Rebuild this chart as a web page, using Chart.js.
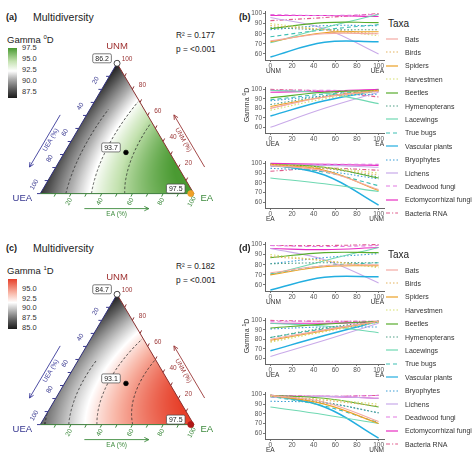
<!DOCTYPE html>
<html>
<head>
<meta charset="utf-8">
<script src="https://cdn.jsdelivr.net/npm/chart.js@4.4.0/dist/chart.umd.min.js"></script>
<style>
body { margin: 0; background: #fff; font-family: "Liberation Sans", Arial, sans-serif; }
#wrap { position: relative; width: 474px; height: 462px; overflow: hidden; }
.t { position: absolute; white-space: nowrap; color: #222; line-height: 1; }
canvas { position: absolute; }
</style>
</head>
<body>
<div id="wrap"></div>
<script>
// ---------- data ----------
const taxa = ['Bats', 'Birds', 'Spiders', 'Harvestmen', 'Beetles', 'Hymenopterans', 'Lacewings',
  'True bugs', 'Vascular plants', 'Bryophytes', 'Lichens', 'Deadwood fungi', 'Ectomycorrhizal fungi', 'Bacteria RNA'];
const taxaColors = ['#f4a9a3', '#e3b25e', '#eba125', '#d5df6e', '#58ac2c', '#4f9f86', '#6fd8b2',
  '#3fbfb4', '#22aee0', '#3c9ed6', '#c9aae9', '#e27ae2', '#e82cc2', '#e05c8c'];
const taxaLines = ['solid', 'dotted', 'solid', 'dotted', 'solid', 'dotted', 'solid',
  'dashed', 'solid', 'dotted', 'solid', 'dashed', 'solid', 'dashdot'];

// Gamma 0D (b): values at the three pure compositions and at edge midpoints
const b_UNM = [73, 88, 72, 90, 85, 86, 71, 77, 57, 84, 96, 99, 98, 93];
const b_UEA = [80, 80, 82, 78, 91, 84, 99, 89, 72, 88, 60, 99, 97, 100];
const b_EA  = [98, 99, 99, 98, 99, 99, 85, 98, 99, 95, 97, 98, 100, 92];
const b_mid_UNM_UEA = [80, 84, 81, 84, 91, 84, 86, 84, 71.5, 88, 85, 98, 98, 96];
const b_mid_UEA_EA  = [92, 92, 92, 90, 97, 93, 96, 95, 88, 93, 80, 99, 98, 98];
const b_mid_EA_UNM  = [92, 95, 93, 96, 96, 95, 79, 91, 88, 92, 98, 99, 99, 95];

// Gamma 1D (d)
const d_UNM = [72, 88, 70, 90, 87, 81, 70, 71, 55, 81, 96, 99, 96, 99];
const d_UEA = [80, 78, 79, 77, 92, 82, 97, 82, 68, 91, 62, 99, 97, 100];
const d_EA  = [99, 99, 99, 98, 99, 99, 87, 98, 99, 93, 97, 99, 98, 99];
const d_mid_UNM_UEA = [79, 84, 78, 84, 92, 82, 84, 79, 67.5, 87, 85, 98, 95, 99];
const d_mid_UEA_EA  = [90, 90, 89, 88, 96, 92, 94, 91, 84, 93, 79, 99, 97, 99];
const d_mid_EA_UNM  = [92, 94, 90, 95, 96, 92, 79, 88, 87, 91, 98, 98, 98, 98];

const xTicks = [0, 20, 40, 60, 80, 100];
const yTicks = [60, 70, 80, 90, 100];
const ternTicks = [0.2, 0.4, 0.6, 0.8, 1.0];

// ternary surfaces: [UNM, UEA, EA] corner values, edge midpoints [UNM-UEA, UEA-EA, EA-UNM]
const a_corners = [86.2, 87.0, 97.5];
const a_mids = [88.0, 94.5, 95.6];
const a_levels = [90, 92.5, 95];
const a_barTicks = [87.5, 90, 92.5, 95, 97.5];
const a_labels = ['86.2', '93.7', '97.5'];

const c_corners = [84.7, 87.0, 97.5];
const c_mids = [88.0, 94.0, 95.0];
const c_levels = [87.5, 90, 92.5, 95];
const c_barTicks = [85, 87.5, 90, 92.5, 95];
const c_labels = ['84.7', '93.1', '97.5'];

// marked compositions [UNM, UEA, EA]: minimum, centre, maximum
const markUNM = [1.0, 0.316, 0.0];
const markUEA = [0.0, 0.284, 0.02];
const markEA  = [0.0, 0.40, 0.98];

// ---------- helpers ----------
const wrap = document.getElementById('wrap');
const FONT = '"Liberation Sans", Arial, sans-serif';
const SQ = Math.sqrt(3) / 2;

function txt(s, x, y, css) {
  const d = document.createElement('div');
  d.className = 't';
  d.innerHTML = s;
  d.style.left = x + 'px';
  d.style.top = y + 'px';
  if (css) d.style.cssText += css;
  wrap.appendChild(d);
  return d;
}
function mkCanvas(x, y, w, h) {
  const c = document.createElement('canvas');
  c.width = w; c.height = h;
  c.style.left = x + 'px'; c.style.top = y + 'px';
  c.style.width = w + 'px'; c.style.height = h + 'px';
  wrap.appendChild(c);
  return c;
}
function dashFor(kind) {
  if (kind === 'dotted') return [1.5, 2];
  if (kind === 'dashed') return [4, 3];
  if (kind === 'dashdot') return [4, 2, 1.2, 2];
  return [];
}
function hexRgb(h) {
  return [parseInt(h.substr(1, 2), 16), parseInt(h.substr(3, 2), 16), parseInt(h.substr(5, 2), 16)];
}
function colorAt(stops, v) {
  if (v <= stops[0][0]) return hexRgb(stops[0][1]);
  for (let i = 1; i < stops.length; i++) {
    if (v <= stops[i][0]) {
      const t = (v - stops[i - 1][0]) / (stops[i][0] - stops[i - 1][0]);
      const a = hexRgb(stops[i - 1][1]), b = hexRgb(stops[i][1]);
      return [0, 1, 2].map(k => Math.round(a[k] + (b[k] - a[k]) * t));
    }
  }
  return hexRgb(stops[stops.length - 1][1]);
}
// quadratic triangle surface through corner and edge-midpoint values
function surf(corners, mids, n, u, e) {
  return corners[0] * n * (2 * n - 1) + corners[1] * u * (2 * u - 1) + corners[2] * e * (2 * e - 1)
    + 4 * mids[0] * n * u + 4 * mids[1] * u * e + 4 * mids[2] * e * n;
}

// ---------- ternary panels ----------
function ternaryPanel(top, cfg) {
  const cv = mkCanvas(0, top, 237, 231);
  const plugin = {
    id: 'tern',
    beforeDatasetsDraw(chart) {
      const ctx = chart.ctx, xs = chart.scales.x, ys = chart.scales.y;
      const P = (n, u, e) => [xs.getPixelForValue(e + n / 2), ys.getPixelForValue(n * SQ)];
      const vT = P(1, 0, 0), vL = P(0, 1, 0), vR = P(0, 0, 1);
      // surface
      const x0 = Math.floor(vL[0]) - 1, x1 = Math.ceil(vR[0]) + 1;
      const y0 = Math.floor(vT[1]) - 1, y1 = Math.ceil(vL[1]) + 1;
      const w = x1 - x0, h = y1 - y0;
      const off = document.createElement('canvas');
      off.width = w; off.height = h;
      const octx = off.getContext('2d');
      const img = octx.createImageData(w, h);
      for (let j = 0; j < h; j++) {
        for (let i = 0; i < w; i++) {
          const X = xs.getValueForPixel(x0 + i + 0.5), Y = ys.getValueForPixel(y0 + j + 0.5);
          let n = Y / SQ, e = X - n / 2, u = 1 - n - e;
          if (n < -0.02 || e < -0.02 || u < -0.02) continue;
          n = Math.max(0, n); e = Math.max(0, e); u = Math.max(0, u);
          const c = colorAt(cfg.stops, surf(cfg.corners, cfg.mids, n, u, e));
          const k = (j * w + i) * 4;
          img.data[k] = c[0]; img.data[k + 1] = c[1]; img.data[k + 2] = c[2]; img.data[k + 3] = 255;
        }
      }
      octx.putImageData(img, 0, 0);
      ctx.save();
      ctx.beginPath(); ctx.moveTo(vT[0], vT[1]); ctx.lineTo(vL[0], vL[1]); ctx.lineTo(vR[0], vR[1]); ctx.closePath();
      ctx.clip();
      ctx.drawImage(off, x0, y0);
      // contours: march along rays from the UEA corner to the EA-UNM edge
      ctx.strokeStyle = '#2a2a2a'; ctx.lineWidth = 0.8; ctx.setLineDash([2.5, 2]);
      cfg.levels.forEach(L => {
        ctx.beginPath();
        let started = false;
        for (let k = 0; k <= 160; k++) {
          const s = k / 160;
          const f = t => surf(cfg.corners, cfg.mids, t * s, 1 - t, t * (1 - s)) - L;
          let lo = null;
          const steps = 60;
          for (let q = 1; q <= steps; q++) {
            if (f(q / steps) >= 0) { lo = q; break; }
          }
          if (lo === null) { started = false; continue; }
          let a = (lo - 1) / steps, b = lo / steps;
          for (let it = 0; it < 25; it++) { const m = (a + b) / 2; if (f(m) >= 0) b = m; else a = m; }
          const pt = P(b * s, 1 - b, b * (1 - s));
          if (!started) { ctx.moveTo(pt[0], pt[1]); started = true; } else ctx.lineTo(pt[0], pt[1]);
        }
        ctx.stroke();
      });
      ctx.restore();
      // edges
      ctx.save();
      ctx.lineWidth = 1;
      const edge = (p, q, col) => { ctx.strokeStyle = col; ctx.beginPath(); ctx.moveTo(p[0], p[1]); ctx.lineTo(q[0], q[1]); ctx.stroke(); };
      edge(vL, vT, '#2f2f7a');
      edge(vT, vR, '#8a3030');
      edge(vL, vR, '#3c7d3c');
      // ticks
      for (let k = 1; k <= 10; k++) {
        const p = k / 10;
        let a = P(0, 1 - p, p); ctx.strokeStyle = '#3c8a3c';
        ctx.beginPath(); ctx.moveTo(a[0], a[1]); ctx.lineTo(a[0] - 1.5, a[1] + 3); ctx.stroke();
        a = P(1 - p, p, 0); ctx.strokeStyle = '#3a3a90';
        ctx.beginPath(); ctx.moveTo(a[0], a[1]); ctx.lineTo(a[0] - 3.3, a[1]); ctx.stroke();
        a = P(p, 0, 1 - p); ctx.strokeStyle = '#8a3030';
        ctx.beginPath(); ctx.moveTo(a[0], a[1]); ctx.lineTo(a[0] + 1.5, a[1] - 3); ctx.stroke();
      }
      // tick labels
      ctx.font = '6.5px ' + FONT;
      ctx.textAlign = 'center'; ctx.textBaseline = 'middle';
      ternTicks.forEach(p => {
        const lab = String(Math.round(p * 100));
        let a = P(0, 1 - p, p);
        ctx.save(); ctx.translate(a[0] - 2, a[1] + 8); ctx.rotate(-Math.PI / 3);
        ctx.fillStyle = '#3c8a3c'; ctx.fillText(lab, 0, 0); ctx.restore();
        a = P(1 - p, p, 0);
        ctx.save(); ctx.translate(a[0] - 6, a[1] - 9); ctx.rotate(-Math.PI / 3);
        ctx.fillStyle = '#3a3a90'; ctx.fillText(lab, 0, 0); ctx.restore();
        a = P(p, 0, 1 - p);
        ctx.fillStyle = '#9a3535'; ctx.fillText(lab, a[0] + 10, a[1] - 4);
      });
      // corner names
      ctx.font = '9.5px ' + FONT;
      ctx.fillStyle = '#9e2f2f'; ctx.fillText('UNM', vT[0], vT[1] - 17);
      ctx.fillStyle = '#35358f'; ctx.fillText('UEA', vL[0] - 18, vL[1] + 5);
      ctx.fillStyle = '#3c8a3c'; ctx.fillText('EA', vR[0] + 13, vR[1] + 5);
      // axis arrows
      const arrow = (p, q, col) => {
        ctx.strokeStyle = col; ctx.fillStyle = col; ctx.lineWidth = 0.9;
        ctx.beginPath(); ctx.moveTo(p[0], p[1]); ctx.lineTo(q[0], q[1]); ctx.stroke();
        const ang = Math.atan2(q[1] - p[1], q[0] - p[0]);
        ctx.beginPath();
        ctx.moveTo(q[0], q[1]);
        ctx.lineTo(q[0] - 5 * Math.cos(ang - 0.45), q[1] - 5 * Math.sin(ang - 0.45));
        ctx.moveTo(q[0], q[1]);
        ctx.lineTo(q[0] - 5 * Math.cos(ang + 0.45), q[1] - 5 * Math.sin(ang + 0.45));
        ctx.stroke();
      };
      const la = P(0.65, 0.35, 0), lb = P(0.25, 0.75, 0);
      arrow([la[0] - 30, la[1] + 6], [lb[0] - 30, lb[1] + 6], '#3a3a9a');
      const ra = P(0.25, 0, 0.75), rb = P(0.65, 0, 0.35);
      arrow([ra[0] + 30, ra[1] + 6], [rb[0] + 30, rb[1] + 6], '#9a3535');
      const ba = P(0, 0.7, 0.3), bb = P(0, 0.28, 0.72);
      arrow([ba[0] - 2, ba[1] + 15], [bb[0] - 2, bb[1] + 15], '#3c8a3c');
      ctx.font = '6.5px ' + FONT;
      const lm = P(0.45, 0.55, 0);
      ctx.save(); ctx.translate(lm[0] - 24, lm[1] + 5); ctx.rotate(-Math.PI / 3);
      ctx.fillStyle = '#3a3a9a'; ctx.fillText('UEA (%)', 0, 0); ctx.restore();
      const rm = P(0.45, 0, 0.55);
      ctx.save(); ctx.translate(rm[0] + 24, rm[1] + 5); ctx.rotate(Math.PI / 3);
      ctx.fillStyle = '#9a3535'; ctx.fillText('UNM (%)', 0, 0); ctx.restore();
      const bm = P(0, 0.49, 0.51);
      ctx.fillStyle = '#3c8a3c'; ctx.fillText('EA (%)', bm[0] - 2, bm[1] + 21);
      ctx.restore();
    },
    afterDatasetsDraw(chart) {
      const ctx = chart.ctx, meta = chart.getDatasetMeta(0);
      ctx.save();
      ctx.font = '7px ' + FONT; ctx.textAlign = 'center'; ctx.textBaseline = 'middle';
      meta.data.forEach((el, i) => {
        const x = el.x - 15, y = el.y - 5;
        const w = ctx.measureText(cfg.labels[i]).width + 5;
        ctx.fillStyle = '#fff'; ctx.strokeStyle = '#444'; ctx.lineWidth = 0.7;
        ctx.beginPath(); ctx.roundRect(x - w / 2, y - 4.5, w, 9, 1.5); ctx.fill(); ctx.stroke();
        ctx.fillStyle = '#222'; ctx.fillText(cfg.labels[i], x, y + 0.5);
      });
      ctx.restore();
    }
  };
  return new Chart(cv, {
    type: 'scatter',
    data: {
      datasets: [{
        data: markUNM.map((n, i) => ({ x: markEA[i] + n / 2, y: n * SQ })),
        pointRadius: [3, 2.3, 3],
        pointBackgroundColor: ['#ffffff', '#000000', cfg.maxColor],
        pointBorderColor: ['#222222', '#000000', cfg.maxColor],
        pointBorderWidth: 0.8
      }]
    },
    options: {
      animation: false, responsive: false, devicePixelRatio: 1,
      layout: { padding: 0 },
      scales: {
        x: { type: 'linear', display: false, min: -0.23125, max: 1.25 },
        y: { type: 'linear', display: false, min: -0.2166, max: 1.2548 }
      },
      plugins: { legend: { display: false }, tooltip: { enabled: false } }
    },
    plugins: [plugin]
  });
}

function ternaryText(top, tag, sup, r2, barTicks, stops, lo, hi) {
  txt(tag, 6, top + 13, 'font-size:9px;font-weight:bold;');
  txt('Multidiversity', 33, top + 12, 'font-size:10.5px;');
  txt('Gamma <sup style="font-size:6px;vertical-align:4px">' + sup + '</sup>D', 7, top + 34, 'font-size:9.5px;');
  txt('R² = ' + r2, 176, top + 31, 'font-size:8.3px;');
  txt('p = &lt;0.001', 176, top + 45, 'font-size:8.3px;');
  const barTop = top + 48, barH = 50;
  const g = stops.slice().reverse().map(s => s[1] + ' ' + ((hi - s[0]) / (hi - lo) * 100).toFixed(1) + '%').join(',');
  const bar = txt('', 8, barTop, 'width:9px;height:' + barH + 'px;background:linear-gradient(to bottom,' + g + ');');
  barTicks.forEach(v => {
    const y = barTop + (hi - v) / (hi - lo) * barH;
    txt(v.toFixed(1), 22, y - 4, 'font-size:7.5px;color:#333;');
  });
}

const a_stops = [[86.2, '#1a1a1a'], [88, '#555555'], [90.5, '#b0b0b0'], [92.3, '#ffffff'], [94.5, '#c4e2b0'], [97.5, '#4a9a32']];
const c_stops = [[84.7, '#1a1a1a'], [87, '#606060'], [89.8, '#c4c4c4'], [91.5, '#ffffff'], [94, '#f8b4a4'], [97.5, '#e6402a']];

ternaryText(0, '(a)', '0', '0.177', a_barTicks, a_stops, 86.2, 97.5);
ternaryPanel(0, { corners: a_corners, mids: a_mids, levels: a_levels, stops: a_stops, labels: a_labels, maxColor: '#f0a028' });
ternaryText(231, '(c)', '1', '0.182', c_barTicks, c_stops, 84.7, 97.5);
ternaryPanel(231, { corners: c_corners, mids: c_mids, levels: c_levels, stops: c_stops, labels: c_labels, maxColor: '#b01818' });

// ---------- line panels ----------
function linePanel(top, h, padTop, startVals, midVals, endVals, nameL, nameR, ymin, ymax) {
  const cv = mkCanvas(237, top, 150, h);
  const datasets = taxa.map((t, i) => ({
    label: t,
    data: [startVals[i], midVals[i], endVals[i]].map((v, k) => ({ x: k * 50, y: v })),
    borderColor: taxaColors[i],
    borderDash: dashFor(taxaLines[i]),
    borderWidth: taxa[i] === 'Vascular plants' ? 1.5 : 1.1,
    pointRadius: 0,
    tension: 0.4,
    fill: false
  }));
  new Chart(cv, {
    type: 'line',
    data: { datasets },
    options: {
      animation: false, responsive: false, devicePixelRatio: 1,
      layout: { padding: { top: padTop, right: 3, left: 0, bottom: 0 } },
      scales: {
        x: {
          type: 'linear', min: -5, max: 105,
          afterBuildTicks: s => { s.ticks = xTicks.map(v => ({ value: v })); },
          afterFit: s => { s.height = 12; },
          ticks: { font: { size: 6.5, family: FONT }, color: '#555', padding: 0, maxRotation: 0 },
          grid: { display: true, drawOnChartArea: false, drawTicks: true, tickLength: 2, color: '#777' },
          border: { color: '#666', width: 1 }
        },
        y: {
          type: 'linear', min: ymin, max: ymax,
          afterBuildTicks: s => { s.ticks = yTicks.map(v => ({ value: v })); },
          afterFit: s => { s.width = 28; },
          ticks: { font: { size: 6.5, family: FONT }, color: '#555', padding: 1 },
          grid: { display: true, drawOnChartArea: false, drawTicks: true, tickLength: 2, color: '#777' },
          border: { color: '#666', width: 1 }
        }
      },
      plugins: { legend: { display: false }, tooltip: { enabled: false } }
    }
  });
  const bottom = top + h - 12;
  txt(nameL, 266, bottom + 8, 'font-size:6.5px;color:#333;');
  txt(nameR, 384, bottom + 8, 'font-size:6.5px;color:#333;transform:translateX(-100%);');
}

function lineFigure(off, tag, sup, UNM, UEA, EA, m1, m2, m3) {
  txt(tag, 239, off + 13, 'font-size:9px;font-weight:bold;');
  linePanel(off + 0, 72, 11, UNM, m1, UEA, 'UNM', 'UEA', 54, 102.5);
  linePanel(off + 75, 70, 12, UEA, m2, EA, 'UEA', 'EA', 54, 102.5);
  linePanel(off + 150, 70, 11, EA, m3, UNM, 'EA', 'UNM', 54, 102.5);
  const yl = txt('Gamma <sup style="font-size:5px;vertical-align:3px">' + sup + '</sup>D', 246, off + 105, 'font-size:7px;color:#333;transform:translate(-50%,-50%) rotate(-90deg);');
  // legend
  txt('Taxa', 388, off + 19, 'font-size:10px;color:#222;');
  taxa.forEach((t, i) => {
    const y = off + 39 + i * 13.4;
    const svg = document.createElementNS('http://www.w3.org/2000/svg', 'svg');
    svg.setAttribute('width', '12'); svg.setAttribute('height', '4');
    svg.style.position = 'absolute'; svg.style.left = '386px'; svg.style.top = (y - 2) + 'px';
    const ln = document.createElementNS('http://www.w3.org/2000/svg', 'line');
    ln.setAttribute('x1', '0'); ln.setAttribute('x2', '12'); ln.setAttribute('y1', '2'); ln.setAttribute('y2', '2');
    ln.setAttribute('stroke', taxaColors[i]); ln.setAttribute('stroke-width', '1.2');
    const d = dashFor(taxaLines[i]);
    if (d.length) ln.setAttribute('stroke-dasharray', d.join(' '));
    svg.appendChild(ln);
    wrap.appendChild(svg);
    txt(t, 405, y - 3.5, 'font-size:7px;color:#333;');
  });
}

lineFigure(0, '(b)', '0', b_UNM, b_UEA, b_EA, b_mid_UNM_UEA, b_mid_UEA_EA, b_mid_EA_UNM);
lineFigure(231, '(d)', '1', d_UNM, d_UEA, d_EA, d_mid_UNM_UEA, d_mid_UEA_EA, d_mid_EA_UNM);
</script>
</body>
</html>
